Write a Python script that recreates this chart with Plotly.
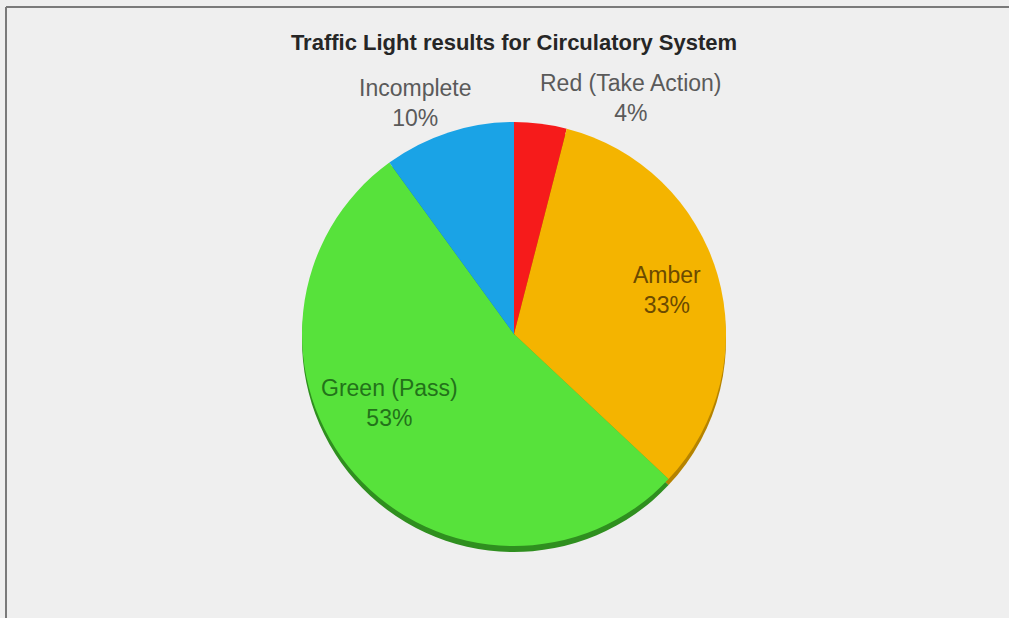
import plotly.graph_objects as go

W, H = 1009, 618

labels = ["Red (Take Action)", "Amber", "Green (Pass)", "Incomplete"]
values = [4, 33, 53, 10]
colors = ["#f61b1b", "#f4b400", "#57e23b", "#1aa3e6"]
shadow_colors = ["#a30e0e", "#b58300", "#2f8f1f", "#0d6e9e"]
label_colors = ["#5a5a5a", "#6b4a00", "#23721a", "#5a5a5a"]
title_text = "Traffic Light results for Circulatory System"

# label centre positions in pixels
label_pos = [(631, 98), (667, 290), (389, 403), (415, 103)]


def px_x(x):
    return x / W


def px_y(y):
    return 1 - y / H


pie_left, pie_right, pie_top, pie_bottom = 302, 726, 122, 546
shadow_dy = 6

fig = go.Figure()
fig.add_trace(go.Pie(
    labels=labels, values=values, sort=False, direction="clockwise", rotation=0,
    marker=dict(colors=shadow_colors, line=dict(width=0)),
    textinfo="none", hoverinfo="skip", showlegend=False,
    domain=dict(x=[px_x(pie_left), px_x(pie_right)],
                y=[px_y(pie_bottom + shadow_dy), px_y(pie_top + shadow_dy)]),
))
fig.add_trace(go.Pie(
    labels=labels, values=values, sort=False, direction="clockwise", rotation=0,
    marker=dict(colors=colors, line=dict(width=0)),
    textinfo="none", showlegend=False,
    domain=dict(x=[px_x(pie_left), px_x(pie_right)],
                y=[px_y(pie_bottom), px_y(pie_top)]),
))

total = sum(values)
annotations = []
for lab, val, col, (lx, ly) in zip(labels, values, label_colors, label_pos):
    annotations.append(dict(
        text=f"{lab}<br>{round(val / total * 100)}%",
        x=px_x(lx), y=px_y(ly), xref="paper", yref="paper",
        xanchor="center", yanchor="middle", showarrow=False,
        font=dict(family="Liberation Sans, Arial, sans-serif", size=23, color=col),
    ))

fig.update_layout(
    width=W, height=H,
    margin=dict(l=0, r=0, t=0, b=0),
    paper_bgcolor="#efefef", plot_bgcolor="#efefef",
    title=dict(text=f"<b>{title_text}</b>", x=px_x(514), xanchor="center",
               y=px_y(42), yanchor="middle",
               font=dict(family="Liberation Sans, Arial, sans-serif", size=22, color="#262626")),
    annotations=annotations,
    shapes=[
        dict(type="line", xref="paper", yref="paper", x0=px_x(6), x1=1, y0=px_y(7), y1=px_y(7),
             line=dict(color="#7a7a7a", width=2)),
        dict(type="line", xref="paper", yref="paper", x0=px_x(6), x1=px_x(6), y0=px_y(7), y1=0,
             line=dict(color="#7a7a7a", width=2)),
    ],
)

fig.write_html("out.html")
